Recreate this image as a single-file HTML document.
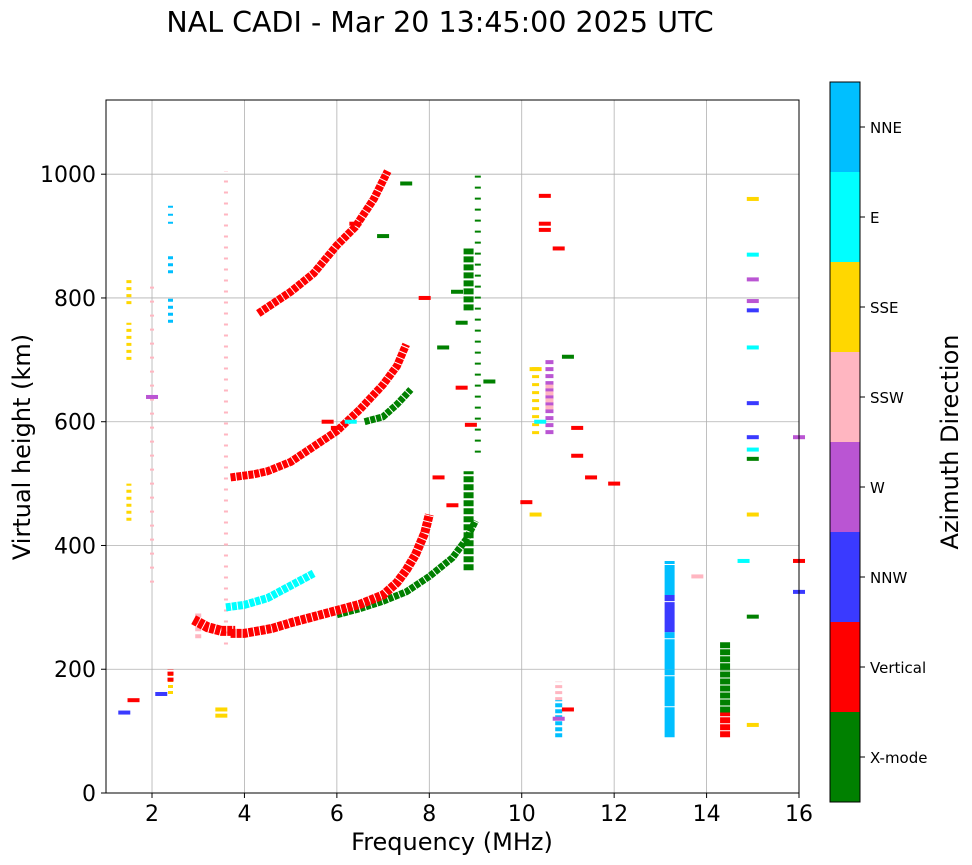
<!DOCTYPE html>
<html><head><meta charset="utf-8"><style>
body{margin:0;background:#fff;}
svg{display:block;font-family:"DejaVu Sans","Liberation Sans",sans-serif;}
</style></head><body>
<svg id="chart" width="972" height="865" xmlns="http://www.w3.org/2000/svg">
<text x="440" y="32" font-size="28.5" text-anchor="middle">NAL CADI - Mar 20 13:45:00 2025 UTC</text>
<g id="grid"></g>
<g id="marks"></g>
<rect x="106" y="100" width="693" height="693" fill="none" stroke="#000" stroke-width="1"/>
<g id="ticks"></g>
<text x="452" y="850" font-size="24" text-anchor="middle">Frequency (MHz)</text>
<text transform="translate(30,447) rotate(-90)" font-size="24" text-anchor="middle">Virtual height (km)</text>
<g id="cbar"></g>
<text transform="translate(958,442) rotate(-90)" font-size="24" text-anchor="middle">Azimuth Direction</text>
</svg>
<script>
const dirNames=["X-mode","Vertical","NNW","W","SSW","SSE","E","NNE"];
const dirColors=["#008000","#ff0000","#3a3aff","#ba55d3","#ffb6c1","#ffd700","#00ffff","#00bfff"];
const xTicks=[2,4,6,8,10,12,14,16];
const yTicks=[0,200,400,600,800,1000];
// traces
const tr1F=[3.7,4.0,4.3,4.6,5.0,5.5,6.0,6.5,7.0,7.3,7.5,7.7,7.9,8.0];
const tr1H=[258,258,262,266,275,285,295,305,320,340,360,385,420,450];
const tr2F=[6.0,6.5,7.0,7.5,8.0,8.5,8.8,9.0];
const tr2H=[288,298,310,325,350,380,410,440];
const tr3F=[3.6,4.0,4.5,5.0,5.5];
const tr3H=[300,304,315,335,355];
const tr4F=[3.7,4.2,4.5,5.0,5.5,6.0,6.5,7.0,7.3,7.5];
const tr4H=[510,515,520,535,560,585,620,660,690,725];
const tr5F=[6.6,7.0,7.3,7.6];
const tr5H=[600,608,628,652];
const tr6F=[4.3,4.6,5.0,5.5,6.0,6.4,6.8,7.1];
const tr6H=[775,790,810,840,885,915,960,1005];
const tr7F=[2.9,3.2,3.5,3.8];
const tr7H=[280,268,262,262];
// column segments: freq, h0, h1, dir
const segF=[13.2,13.2,13.2,13.2,14.4,14.4,14.4,8.85,8.85,9.05,10.6,10.6,10.3,1.5,1.5,1.5,2.4,2.4,2.4,2.4,10.8,10.8,2.4,3.0,3.6,2.0];
const segH0=[90,200,260,320,90,130,200,360,780,550,580,620,580,700,440,790,160,760,840,920,90,150,180,250,240,340];
const segH1=[200,260,320,375,130,200,245,520,880,1005,700,660,690,760,500,830,190,800,870,950,150,180,200,290,1005,820];
const segD=[7,7,2,7,1,0,0,0,0,0,3,4,5,5,5,5,5,7,7,7,7,4,1,4,4,4];
// styles (not data): dash pattern and width per segment
const segDash=["30 1","30 1","30 1","30 1","6 1","6 1","6 1","6 2","6 2","2 9","4 3","4 3","3 5","3 4","3 4","3 4","3 3","3 4","3 4","2 6","4 2","3 3","4 2","4 3","2 9","2 12"];
const segW=[10,10,10,10,10,10,10,10,10,6,8,8,7,5,5,5,5,5,5,5,7,7,6,6,4,4];
// scattered points
const ptF=[8.3,8.7,8.6,8.7,8.5,8.9,9.3,10.1,10.3,10.5,10.5,11.2,11.2,11.5,11.0,15.0,15.0,15.0,15.0,15.0,15.0,15.0,15.0,15.0,15.0,14.8,16.0,16.0,16.0,13.8,7.9,8.2,6.4,6.3,6.0,5.8,1.6,1.4,2.2,2.0,3.5,3.5,10.3,10.4,10.5,10.8,11.0,10.8,12.0,7.0,7.5,15.0,15.0,15.0];
const ptH=[720,655,810,760,465,595,665,470,450,910,965,590,545,510,705,960,870,830,795,780,720,630,575,555,540,375,575,375,325,350,800,510,920,600,590,600,150,130,160,640,135,125,685,600,920,880,135,120,500,900,985,450,285,110];
const ptD=[0,1,0,0,1,1,0,1,5,1,1,1,1,1,0,5,6,3,3,2,6,2,2,6,0,6,3,1,2,4,1,1,1,6,1,1,1,2,2,3,5,5,5,6,1,1,1,3,1,0,0,5,0,5];

const NS="http://www.w3.org/2000/svg";
const xS=f=>105.8+(f-1)*46.214;
const yS=h=>793-h*0.6188;
function mk(tag,attrs,parent){const e=document.createElementNS(NS,tag);for(const k in attrs)e.setAttribute(k,attrs[k]);parent.appendChild(e);return e;}
const grid=document.getElementById('grid'),marks=document.getElementById('marks'),ticks=document.getElementById('ticks'),cbar=document.getElementById('cbar');
xTicks.forEach(t=>{
 const l=mk('line',{x1:xS(t),x2:xS(t),y1:100,y2:793,stroke:'#b0b0b0','stroke-width':0.8},grid);
 
 
 mk('line',{x1:xS(t),x2:xS(t),y1:793,y2:798,stroke:'#000'},ticks);
 const tx=mk('text',{x:xS(t),y:821,'font-size':22,'text-anchor':'middle'},ticks);tx.textContent=t;
 
 
});
yTicks.forEach(t=>{
 const l=mk('line',{x1:106,x2:799,y1:yS(t),y2:yS(t),stroke:'#b0b0b0','stroke-width':0.8},grid);
 
 
 mk('line',{x1:101,x2:106,y1:yS(t),y2:yS(t),stroke:'#000'},ticks);
 const tx=mk('text',{x:96,y:yS(t)+8,'font-size':22,'text-anchor':'end'},ticks);tx.textContent=t;
 
 
});
function trace(F,H,d,name,w){
 const p=mk('polyline',{points:F.map((f,i)=>xS(f)+','+yS(H[i])).join(' '),fill:'none',stroke:dirColors[d],'stroke-width':w,'stroke-dasharray':'5 1'},marks);
 
 
}
segF.forEach((f,i)=>{
 const l=mk('line',{x1:xS(f),x2:xS(f),y1:yS(segH0[i]),y2:yS(segH1[i]),stroke:dirColors[segD[i]],'stroke-width':segW[i],'stroke-dasharray':segDash[i]},marks);
 
 
});
trace(tr2F,tr2H,0,'x-mode-trace-1',7);
trace(tr1F,tr1H,1,'vertical-trace-1',9);
trace(tr3F,tr3H,6,'e-trace-1',8);
trace(tr7F,tr7H,1,'vertical-trace-low',10);
trace(tr4F,tr4H,1,'vertical-trace-2',8);
trace(tr5F,tr5H,0,'x-mode-trace-2',7);
trace(tr6F,tr6H,1,'vertical-trace-3',8);
ptF.forEach((f,i)=>{
 const r=mk('rect',{x:xS(f)-6,y:yS(ptH[i])-2,width:12,height:4,fill:dirColors[ptD[i]]},marks);
 
 
});
dirNames.forEach((n,i)=>{
 const y0=802-(i+1)*90;
 const r=mk('rect',{x:830,y:y0,width:30,height:90,fill:dirColors[i]},cbar);
 
 
 mk('line',{x1:860,x2:865,y1:y0+45,y2:y0+45,stroke:'#000'},cbar);
 const t=mk('text',{x:870,y:y0+51,'font-size':15},cbar);t.textContent=n;
 
 
});
mk('rect',{x:830,y:82,width:30,height:720,fill:'none',stroke:'#000'},cbar);
</script>
</body></html>
